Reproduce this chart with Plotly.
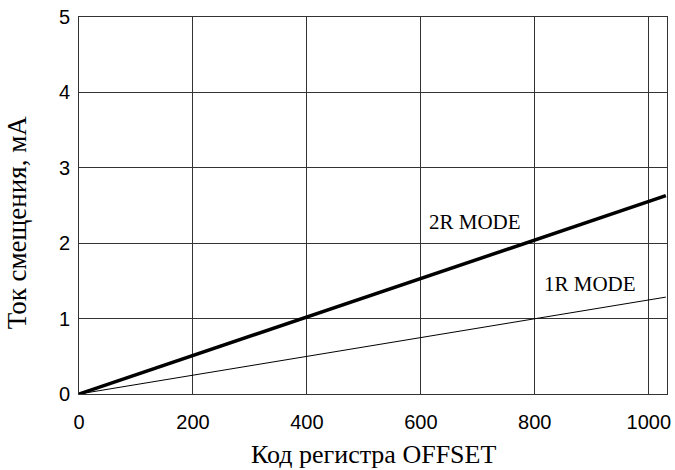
import plotly.graph_objects as go

x_codes = [0, 1030]
i_2r = [0, 2.63]
i_1r = [0, 1.285]
x_ticks = [0, 200, 400, 600, 800, 1000]
y_ticks = [0, 1, 2, 3, 4, 5]

fig = go.Figure()
fig.add_trace(go.Scatter(x=x_codes, y=i_2r, mode="lines",
                         line=dict(color="black", width=3.5), showlegend=False))
fig.add_trace(go.Scatter(x=x_codes, y=i_1r, mode="lines",
                         line=dict(color="black", width=1), showlegend=False))

serif = "Liberation Serif"
fig.add_annotation(x=695, y=2.28, text="2R MODE", showarrow=False,
                   font=dict(family=serif, size=21, color="black"))
fig.add_annotation(x=897, y=1.46, text="1R MODE", showarrow=False,
                   font=dict(family=serif, size=21, color="black"))
fig.add_annotation(xref="paper", yref="paper", x=0.5, y=-0.16, yanchor="middle",
                   text="Код регистра OFFSET", showarrow=False,
                   font=dict(family=serif, size=26, color="black"))
fig.add_annotation(xref="paper", yref="paper", x=-0.104, y=0.455, xanchor="center",
                   yanchor="middle", textangle=-90,
                   text="Ток смещения, мА", showarrow=False,
                   font=dict(family=serif, size=27, color="black"))

fig.update_layout(
    width=675, height=470,
    margin=dict(l=79, r=8, t=17, b=76, autoexpand=False),
    plot_bgcolor="white", paper_bgcolor="white",
    xaxis=dict(range=[0, 1032], tickvals=x_ticks, showgrid=True, automargin=False,
               gridcolor="#333", gridwidth=1, zeroline=False,
               showline=True, linecolor="#333", linewidth=1, mirror=True,
               ticks="outside", ticklen=10, tickcolor="white",
               tickfont=dict(family="Liberation Sans", size=20, color="black")),
    yaxis=dict(range=[0, 5], tickvals=y_ticks, showgrid=True, automargin=False,
               gridcolor="#333", gridwidth=1, zeroline=False,
               showline=True, linecolor="#333", linewidth=1, mirror=True,
               ticks="outside", ticklen=4, tickcolor="white",
               tickfont=dict(family="Liberation Sans", size=20, color="black")),
)
fig.write_html("out.html")
